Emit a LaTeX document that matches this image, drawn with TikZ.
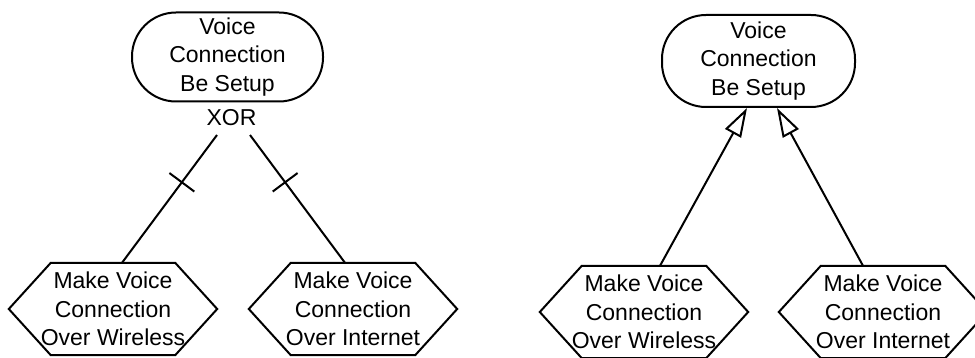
\documentclass[tikz,border=0pt]{standalone}
\usepackage{fontspec}
\setmainfont{Liberation Sans}
\usetikzlibrary{arrows.meta,decorations.markings}

\tikzset{
  labelfont/.style={font=\fontsize{23}{28.5}\selectfont},
  edge/.style={line width=2pt},
  goalbox/.style={draw, line width=2pt, rounded corners=44pt, inner sep=0pt,
    align=center, labelfont},
  hexlabel/.style={minimum width=208pt, minimum height=92pt, inner sep=0pt,
    align=center, labelfont},
  crossed/.style={postaction={decorate}, decoration={markings,
    mark=at position 0.37 with {\draw[line width=2pt] (0,-15.5pt) -- (0,15.5pt);}}},
  inherit/.style={line width=2pt,
    -{Triangle[open, length=29pt, width=18pt, line width=2pt]}}
}

% hexagonal outline around a task label node
\newcommand\hexoutline[1]{%
  \draw[edge, line join=miter] (#1.west) -- ([xshift=42pt]#1.north west)
    -- ([xshift=-42pt]#1.north east) -- (#1.east)
    -- ([xshift=-42pt]#1.south east) -- ([xshift=42pt]#1.south west) -- cycle;}

\begin{document}
\begin{tikzpicture}[x=1pt, y=-1pt]
  \clip (0,0) rectangle (975,358);
  \useasboundingbox (0,0) rectangle (975,358);

  % ---- XOR decomposition ----
  \node[goalbox, minimum width=191pt, minimum height=89pt] (top1) at (227.5,57)
    {Voice\\Connection\\Be Setup};
  \node[labelfont, inner sep=0pt, anchor=base] (xor) at (231.5,126) {XOR};
  \coordinate (xl) at (217,135);
  \coordinate (xr) at (250,135);

  \node[hexlabel] (w1) at (113,309) {Make Voice\\Connection\\Over Wireless};
  \node[hexlabel] (w2) at (353,309) {Make Voice\\Connection\\Over Internet};
  \hexoutline{w1}
  \hexoutline{w2}

  \draw[edge, crossed] (xl) -- ([xshift=9pt]w1.north);
  \draw[edge, crossed] (xr) -- ([xshift=-8pt]w2.north);

  % ---- specialisation ----
  \node[goalbox, minimum width=193pt, minimum height=92pt] (top2) at (758.5,61)
    {Voice\\Connection\\Be Setup};

  \node[hexlabel] (w3) at (644,312) {Make Voice\\Connection\\Over Wireless};
  \node[hexlabel] (w4) at (883,312) {Make Voice\\Connection\\Over Internet};
  \hexoutline{w3}
  \hexoutline{w4}

  \draw[inherit] ([xshift=16pt]w3.north) -- ([xshift=-11.5pt]top2.south);
  \draw[inherit] ([xshift=-20pt]w4.north) -- ([xshift=18.5pt]top2.south);
\end{tikzpicture}
\end{document}
